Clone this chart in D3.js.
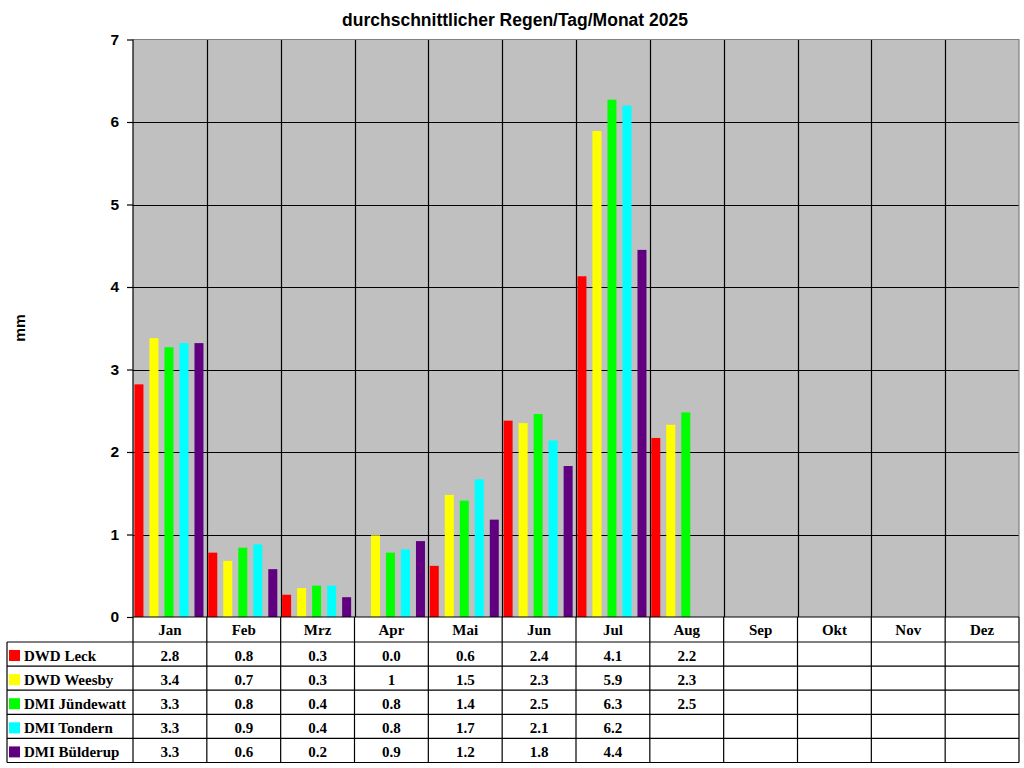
<!DOCTYPE html>
<html><head><meta charset="utf-8">
<script src="https://cdn.jsdelivr.net/npm/d3@7"></script>
<style>body{margin:0;background:#fff}svg{display:block}</style>
</head><body>
<script>
const months = ["Jan","Feb","Mrz","Apr","Mai","Jun","Jul","Aug","Sep","Okt","Nov","Dez"];
const seriesNames = ["DWD Leck","DWD Weesby","DMI Jündewatt","DMI Tondern","DMI Bülderup"];
const seriesColors = ["#ff0000","#ffff00","#00ff00","#00ffff","#600080"];
const leck      = [2.82,0.78,0.27,0.0,0.62,2.38,4.13,2.17,null,null,null,null];
const weesby    = [3.38,0.68,0.35,0.99,1.48,2.35,5.89,2.33,null,null,null,null];
const juendewatt= [3.27,0.84,0.38,0.78,1.41,2.46,6.27,2.48,null,null,null,null];
const tondern   = [3.32,0.88,0.38,0.82,1.67,2.14,6.20,null,null,null,null,null];
const buelderup = [3.32,0.58,0.24,0.92,1.18,1.83,4.45,null,null,null,null,null];
const leckLabels      = ["2.8","0.8","0.3","0.0","0.6","2.4","4.1","2.2","","","",""];
const weesbyLabels    = ["3.4","0.7","0.3","1","1.5","2.3","5.9","2.3","","","",""];
const juendewattLabels= ["3.3","0.8","0.4","0.8","1.4","2.5","6.3","2.5","","","",""];
const tondernLabels   = ["3.3","0.9","0.4","0.8","1.7","2.1","6.2","","","","",""];
const buelderupLabels = ["3.3","0.6","0.2","0.9","1.2","1.8","4.4","","","","",""];
const yTicks = [0,1,2,3,4,5,6,7];
const chartTitle = "durchschnittlicher Regen/Tag/Monat 2025";
const yLabel = "mm";

const seriesValues = [leck, weesby, juendewatt, tondern, buelderup];
const seriesLabels = [leckLabels, weesbyLabels, juendewattLabels, tondernLabels, buelderupLabels];

const W = 1024, H = 768;
const pLeft = 133, pRight = 1019, pTop = 39.5, pBottom = 617;
const svg = d3.select("body").append("svg").attr("width", W).attr("height", H);

const x = d3.scaleBand().domain(months).range([pLeft, pRight]).padding(0);
const xi = d3.scaleBand().domain(d3.range(5)).range([0, x.bandwidth()])
  .paddingInner(0.4).paddingOuter(0.16).align(0.3);
const y = d3.scaleLinear().domain([0, 7]).range([pBottom, pTop]);

svg.append("rect").attr("x", pLeft).attr("y", pTop).attr("width", pRight-pLeft).attr("height", pBottom-pTop)
  .attr("fill", "#c0c0c0");

svg.append("g").selectAll("line").data(yTicks.filter(t => t > 0 && t < 7)).join("line")
  .attr("x1", pLeft).attr("x2", pRight).attr("y1", d => Math.round(y(d))+0.5).attr("y2", d => Math.round(y(d))+0.5)
  .attr("stroke", "#000").attr("stroke-width", 1.2);
svg.append("g").selectAll("line").data(months.slice(1)).join("line")
  .attr("x1", d => Math.round(x(d))+0.5).attr("x2", d => Math.round(x(d))+0.5)
  .attr("y1", pTop).attr("y2", pBottom)
  .attr("stroke", "#000").attr("stroke-width", 1.2);
svg.append("path").attr("d", `M${pLeft},${pTop}H${pRight}V${pBottom}`).attr("fill","none")
  .attr("stroke", "#808080").attr("stroke-width", 1.2);

seriesValues.forEach((vals, si) => {
  svg.append("g").selectAll("rect").data(months.map((m, i) => ({m, v: vals[i]})).filter(d => d.v != null && d.v > 0))
    .join("rect")
    .attr("x", d => x(d.m) + xi(si))
    .attr("width", xi.bandwidth())
    .attr("y", d => y(d.v))
    .attr("height", d => y(0) - y(d.v))
    .attr("fill", seriesColors[si]);
});

const yAxis = d3.axisLeft(y).tickValues(yTicks).tickSize(6).tickPadding(8).tickFormat(d3.format("d"));
const ga = svg.append("g").attr("transform", `translate(${pLeft},0)`).call(yAxis);
ga.select(".domain").attr("stroke", "#000").attr("stroke-width", 1.2).attr("d", `M0,${pTop}V${pBottom}`);
ga.selectAll(".tick line").attr("stroke", "#000").attr("stroke-width", 1.2);
ga.selectAll(".tick text").attr("font-family", "Liberation Sans, Arial, sans-serif")
  .attr("font-weight", "bold").attr("font-size", 15.5).attr("fill", "#000");

svg.append("text").attr("transform", "translate(25,328) rotate(-90)").attr("text-anchor", "middle")
  .attr("font-family", "Liberation Sans, Arial, sans-serif").attr("font-weight", "bold").attr("font-size", 15.5)
  .text(yLabel);

svg.append("text").attr("x", 515).attr("y", 26).attr("text-anchor", "middle")
  .attr("font-family", "Liberation Sans, Arial, sans-serif").attr("font-weight", "bold").attr("font-size", 17.5)
  .text(chartTitle);

const tblLeft = 7, hdrBottom = 642, tblBottom = 762.5;
const rowH = (tblBottom - hdrBottom) / 5;
const tg = svg.append("g").attr("stroke", "#000").attr("stroke-width", 1.2);
tg.append("line").attr("x1", pLeft).attr("x2", pRight).attr("y1", pBottom).attr("y2", pBottom);
d3.range(6).forEach(r => {
  tg.append("line").attr("x1", tblLeft).attr("x2", pRight)
    .attr("y1", hdrBottom + r*rowH).attr("y2", hdrBottom + r*rowH);
});
months.forEach(m => {
  tg.append("line").attr("x1", x(m)).attr("x2", x(m)).attr("y1", pBottom).attr("y2", tblBottom);
});
tg.append("line").attr("x1", pRight).attr("x2", pRight).attr("y1", pBottom).attr("y2", tblBottom);
tg.append("line").attr("x1", tblLeft).attr("x2", tblLeft).attr("y1", hdrBottom).attr("y2", tblBottom);

const serif = "Liberation Serif, Times New Roman, serif";
svg.append("g").selectAll("text").data(months).join("text")
  .attr("x", d => x(d) + x.bandwidth()/2).attr("y", 635).attr("text-anchor", "middle")
  .attr("font-family", serif).attr("font-weight", "bold").attr("font-size", 15).text(d => d);

seriesNames.forEach((name, si) => {
  const ry = hdrBottom + si*rowH;
  svg.append("rect").attr("x", 9).attr("y", ry + 8).attr("width", 11).attr("height", 11)
    .attr("fill", seriesColors[si]);
  svg.append("text").attr("x", 24).attr("y", ry + 19)
    .attr("font-family", serif).attr("font-weight", "bold").attr("font-size", 15).text(name);
  svg.append("g").selectAll("text").data(months.map((m, i) => ({m, t: seriesLabels[si][i]})).filter(d => d.t !== ""))
    .join("text")
    .attr("x", d => x(d.m) + x.bandwidth()/2).attr("y", ry + 19).attr("text-anchor", "middle")
    .attr("font-family", serif).attr("font-weight", "bold").attr("font-size", 15).text(d => d.t);
});
</script>
</body></html>
